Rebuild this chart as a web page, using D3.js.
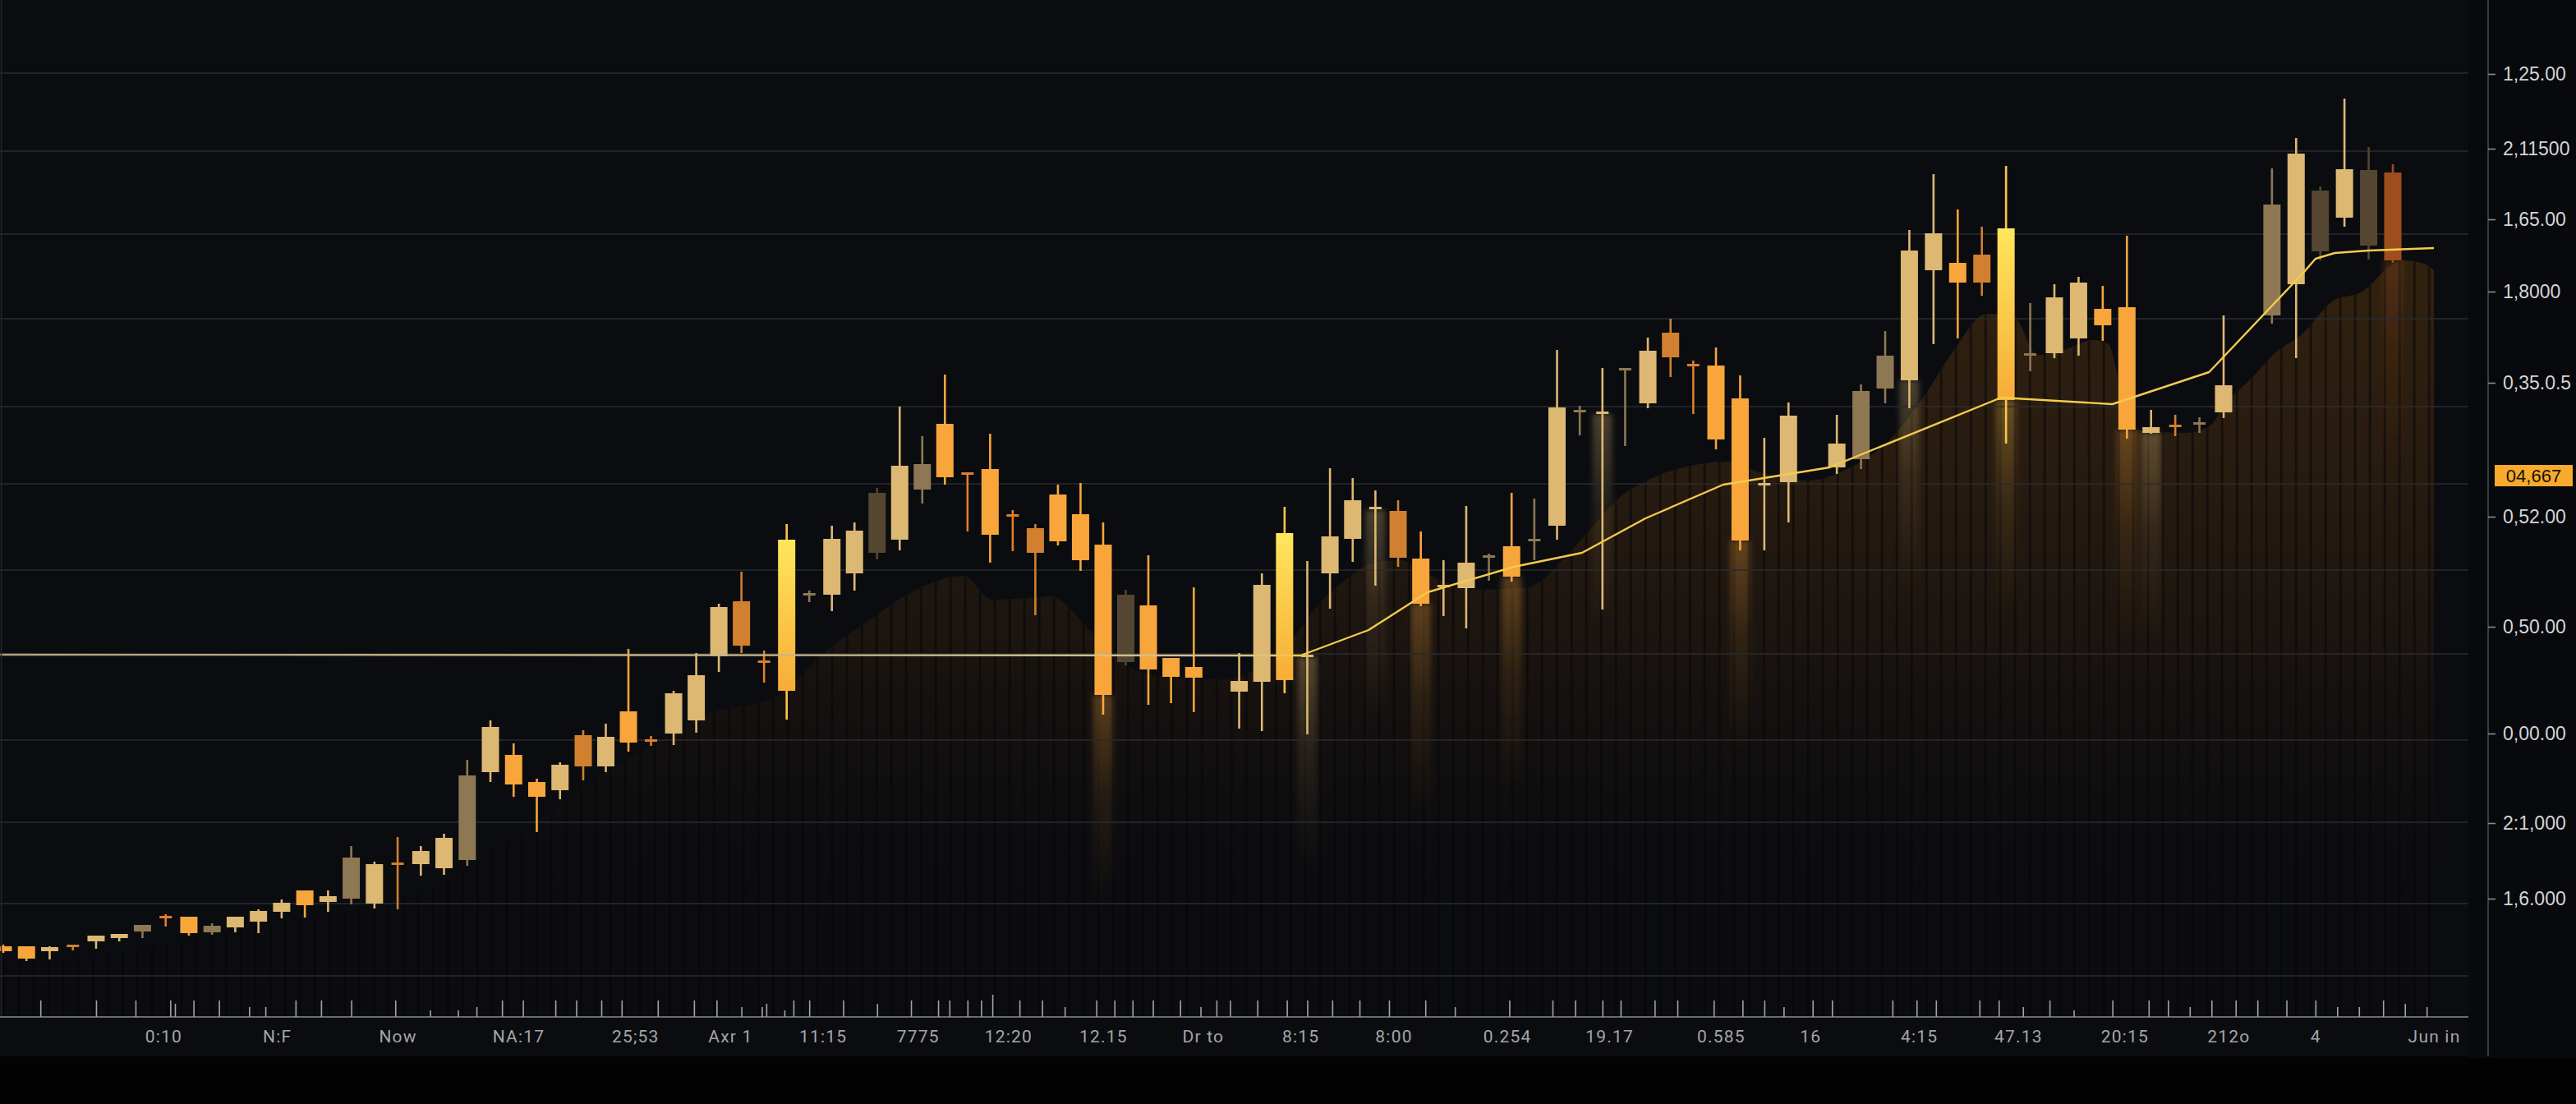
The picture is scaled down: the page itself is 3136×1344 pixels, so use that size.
<!DOCTYPE html>
<html><head><meta charset="utf-8">
<script src="https://cdn.jsdelivr.net/npm/d3@7"></script>
<style>
html,body{margin:0;padding:0;background:#030303;}
svg{display:block;}
</style></head><body>
<svg id="chart" width="3136" height="1344"></svg>
<script>
// ---------------- DATA ----------------
const candleSlot = [0,1,2,3,4,5,6,7,8,9,10,11,12,13,14,15,16,17,18,19,20,21,22,23,24,25,26,27,28,29,30,31,32,33,34,35,36,37,38,39,40,41,42,43,44,45,46,47,48,49,50,51,52,
  54,55,56,57,58,59,60,61,62,63,64,65,66,67,68,69,70,71,72,73,74,75,76,77,78,
  80,81,82,83,84,85,86,87,88,89,90,91,92,93,94,95,96,
  98,99,100,101,102,103];
const candleOpen = [8.6,8.6,8.0,8.7,9.2,9.6,10.4,12.2,12.2,10.3,10.9,11.6,12.8,15.4,14.0,14.4,13.8,18.7,18.6,18.1,19.1,29.8,31.9,28.6,27.6,34.3,30.5,37.2,33.7,34.5,36.1,43.9,50.6,43.3,39.7,51.3,51.4,54.0,56.5,58.1,64.2,72.2,66.2,66.7,61.1,59.5,63.6,61.2,57.5,43.2,50.1,43.7,42.6,
  39.6,40.8,41.0,43.8,54.0,58.2,61.7,61.6,55.8,52.3,52.2,55.9,57.3,57.9,59.8,73.6,73.4,78.7,74.7,83.3,79.4,79.3,75.3,64.7,65.1,
  66.9,67.9,76.5,77.5,90.9,91.8,92.8,75.1,80.5,80.8,82.6,86.2,86.4,71.1,72.0,72.1,73.6,
  85.4,89.2,93.2,97.3,93.9,102.8];
const candleClose = [8.0,7.1,8.5,8.5,9.9,10.1,11.2,12.0,10.2,11.1,12.2,12.9,13.9,13.6,14.7,19.4,18.6,18.5,20.2,21.8,29.4,35.3,28.3,26.8,30.7,30.5,34.1,33.4,33.5,39.4,41.6,49.9,45.2,43.1,58.1,51.5,58.2,59.2,63.8,67.1,67.3,65.7,66.0,58.7,60.9,56.5,57.9,55.6,39.2,51.4,42.3,41.4,41.3,
  40.9,52.6,58.9,44.0,58.5,62.9,62.0,55.9,50.3,52.5,55.3,56.1,53.6,58.1,74.2,73.8,73.6,78.9,81.1,80.3,79.2,70.3,58.0,64.9,73.2,
  69.8,76.2,80.5,93.3,95.4,89.4,89.4,96.0,80.7,87.6,89.4,84.2,71.5,71.8,71.8,72.3,76.9,
  98.9,105.1,100.6,103.2,103.1,92.1];
const candleHigh = [8.8,8.6,8.6,8.8,9.9,10.1,11.2,12.5,12.2,11.4,12.2,13.1,14.3,15.4,15.4,20.8,18.9,21.9,20.8,22.3,31.3,36.1,33.3,29.0,31.0,34.9,35.7,44.8,34.2,39.7,44.3,50.3,54.2,44.6,60.0,51.9,59.8,60.2,64.4,74.3,70.7,78.2,66.3,71.0,61.7,60.0,64.8,65.0,60.2,52.0,56.2,43.7,52.3,
  44.3,54.0,62.1,55.5,66.8,65.6,64.1,62.9,59.1,55.6,62.2,56.4,63.8,63.1,81.2,74.4,79.0,78.9,82.7,85.0,79.9,81.5,78.1,70.5,74.8,
  73.3,77.0,83.5,95.8,102.6,98.3,96.2,103.6,86.9,89.2,90.1,89.0,95.1,73.9,73.3,73.0,85.4,
  103.3,107.0,101.1,111.8,105.9,103.8];
const candleLow = [7.8,6.8,7.0,8.1,8.3,9.2,9.6,11.0,9.9,10.0,10.3,10.2,12.0,12.1,12.8,13.7,13.2,13.1,17.2,17.3,18.4,28.6,26.8,22.5,26.5,28.8,29.8,32.3,33.0,33.1,34.6,42.0,44.3,40.7,36.2,50.5,49.4,51.9,55.7,56.8,62.5,64.8,59.1,55.3,56.7,48.9,57.4,54.3,36.8,42.8,38.0,38.2,37.1,
  35.1,34.8,39.4,34.4,49.7,55.4,52.5,54.8,50.0,48.8,47.3,53.1,53.0,55.6,58.1,70.8,49.6,69.5,74.1,77.9,73.4,69.1,56.8,56.8,60.2,
  66.1,66.7,74.7,74.1,81.9,82.6,87.8,69.8,78.6,80.2,80.5,82.3,70.4,71.0,70.7,71.1,72.9,
  84.4,80.2,92.1,96.2,92.2,91.8];
const candleTone = ["O","O","L","B","L","L","D","R","O","D","L","L","L","O","L","D","L","B","L","L","D","L","O","O","L","B","L","O","R","L","L","L","B","R","Y","D","L","L","K","L","D","O","R","O","R","B","O","O","O","K","O","O","O",
  "L","L","Y","L","L","L","L","B","O","L","L","D","O","D","L","D","L","D","L","B","R","O","O","L","L",
  "L","D","D","L","L","O","B","Y","D","L","L","O","O","L","B","D","L",
  "D","L","K","L","K","M"];

// moving-average line: [slot, value]
const maLine = [[-0.2,44.1],[56.7,44.0],[59.7,47.1],[62.3,51.7],[66.1,54.8],[69.1,56.5],[71.9,60.7],[75.3,64.8],[79.7,66.9],[86.8,75.4],[91.4,74.6],[95.4,78.5],[99.3,90.6],[99.8,92.3],[100.6,93.0],[102.0,93.3],[104.7,93.6]];

// volume envelope: [slot, value]
const volumeEnvelope = [[-0.2,6.6],[3.4,7.3],[6.9,8.8],[10.5,10.8],[13.0,12.0],[16.0,13.8],[19.0,16.5],[21.1,20.3],[22.9,23.3],[24.6,27.3],[27.9,32.8],[30.3,36.7],[33.5,39.0],[36.0,45.1],[37.6,48.2],[39.2,51.2],[40.8,53.2],[41.8,53.7],[43.1,50.8],[44.6,51.0],[45.7,51.2],[47.3,47.4],[48.7,43.6],[50.0,41.7],[53.2,41.1],[56.2,45.6],[57.5,50.2],[58.8,53.5],[59.8,55.2],[61.1,55.6],[62.3,53.9],[64.2,52.0],[66.7,52.3],[68.5,56.4],[69.6,59.8],[70.7,63.1],[72.2,65.6],[74.1,67.2],[75.5,67.6],[76.7,66.4],[78.8,65.3],[80.5,66.8],[82.2,70.3],[83.6,75.5],[84.9,81.4],[86.2,85.6],[87.3,85.3],[88.3,80.6],[89.2,81.0],[90.6,82.4],[91.2,82.0],[92.2,71.5],[94.4,71.1],[95.4,71.9],[96.1,74.7],[97.2,77.9],[98.2,81.0],[99.2,83.0],[100.6,87.3],[101.6,88.1],[103.4,92.1],[104.3,91.7],[104.7,90.9]];
const volumeHighlight = [48,57,60,62,66,70,76,83,87,92,93,103];

// y axis
const yTickVals = [114.8,105.7,97.1,88.3,77.2,60.9,47.5,34.5,23.6,14.4];
const yTickLabels = ["1,25.00","2,11500","1,65.00","1,8000","0,35.0.5","0,52.00","0,50.00","0,00.00","2:1,000","1,6.000"];
const gridVals = [114.9,105.4,95.3,85.0,74.3,64.9,54.4,44.2,33.7,23.7,13.8,5.0];
const lastPrice = 65.9, lastPriceLabel = "04,667";

// x axis
const xLabelSlots = [6.9,11.8,17.0,22.2,27.3,31.5,35.6,39.8,43.8,48.0,52.4,56.7,60.8,65.8,70.3,75.2,78.9,83.4,87.5,91.9,96.2,99.8,104.7];
const xLabels = ["0:10","N:F","Now","NA:17","25;53","Axr 1","11:15","7775","12:20","12.15","Dr to","8:15","8:00","0.254","19.17","0.585","16","4:15","47.13","20:15","212o","4","Jun in"];
const tickLong = [1.6,4.0,5.7,7.2,8.2,9.3,12.6,13.7,15.0,16.9,21.5,22.4,23.8,24.7,25.8,26.7,28.3,29.9,30.9,34.3,35.0,36.5,39.5,40.7,41.2,42.0,42.6,44.3,45.3,47.7,48.5,49.3,50.2,51.4,53.0,53.6,54.8,56.1,57.0,58.1,59.3,60.6,62.2,65.9,67.8,68.8,70.0,70.8,72.3,73.3,74.9,76.1,77.0,79.0,79.8,82.3,83.3,84.1,85.9,86.7,88.8,91.4,92.9,93.7,95.5,96.5,97.4,98.6,99.8,102.6];
const tickMid = [7.4,33.1,38.0,103.5];
const tickShort = [10.6,11.3,20.4,32.0,32.9,46.3,52.3,63.5,77.8,87.7,94.6,100.7,101.6,104.4];
const tickTiny = [18.4,19.6,33.9,89.8];
const tickTall = [43.1];

// ---------------- DRAWING ----------------
const W = 3136, H = 1344;
const plotRight = 3005, axisX = 3029, baseY = 1238, panelBottom = 1286;

const x = d3.scaleLinear().domain([0,25,50,75,103]).range([4,710,1398,2089,2913]);
const y = d3.scaleLinear().domain([0,123.8]).range([baseY,0]);

const toneColor = d3.scaleOrdinal()
  .domain(["L","O","B","D","K","Y","R","M"])
  .range(["#dcb872","#f8a63b","#d0802f","#8d7853","#544631","#fcc548","#e07d2c","#9e4e1d"]);

const candles = candleSlot.map((s,i)=>({slot:s,open:candleOpen[i],close:candleClose[i],high:candleHigh[i],low:candleLow[i],tone:candleTone[i]}));

const svg = d3.select('#chart');
const defs = svg.append('defs');

svg.append('rect').attr('width',W).attr('height',H).attr('fill','#030303');
svg.append('rect').attr('x',0).attr('y',0).attr('width',plotRight).attr('height',panelBottom).attr('fill','#0b0c10');
svg.append('rect').attr('x',plotRight).attr('y',0).attr('width',W-plotRight).attr('height',panelBottom+2).attr('fill','#08090c');

defs.append('clipPath').attr('id','plotClip').append('rect').attr('x',0).attr('y',0).attr('width',plotRight).attr('height',baseY);

// volume gradient (fades out towards the bottom)
const vg = defs.append('linearGradient').attr('id','volGrad').attr('gradientUnits','userSpaceOnUse')
  .attr('x1',0).attr('x2',0).attr('y1',300).attr('y2',1120);
[[0,'#34230f',0.95],[0.35,'#2b1d10',0.88],[0.6,'#21170f',0.7],[0.8,'#17110d',0.4],[1,'#0b0c10',0]].forEach(s=>{
  vg.append('stop').attr('offset',s[0]).attr('stop-color',s[1]).attr('stop-opacity',s[2]);
});
const pat = defs.append('pattern').attr('id','stripes').attr('patternUnits','userSpaceOnUse')
  .attr('width',18).attr('height',40).attr('x',3.7).attr('y',0);
pat.append('rect').attr('x',0).attr('y',0).attr('width',3).attr('height',40).attr('fill','#050507').attr('opacity',0.55);

const yg = defs.append('linearGradient').attr('id','candleY').attr('x1',0).attr('x2',0).attr('y1',0).attr('y2',1);
yg.append('stop').attr('offset',0).attr('stop-color','#ffe65c');
yg.append('stop').attr('offset',1).attr('stop-color','#f7ac37');

toneColor.domain().forEach(t=>{
  const g = defs.append('linearGradient').attr('id','glow-'+t).attr('x1',0).attr('x2',0).attr('y1',0).attr('y2',1);
  g.append('stop').attr('offset',0).attr('stop-color',toneColor(t)).attr('stop-opacity',0.3);
  g.append('stop').attr('offset',0.45).attr('stop-color',toneColor(t)).attr('stop-opacity',0.1);
  g.append('stop').attr('offset',1).attr('stop-color',toneColor(t)).attr('stop-opacity',0);
});
defs.append('filter').attr('id','blur').attr('x','-50%').attr('width','200%')
  .append('feGaussianBlur').attr('stdDeviation',3);

const mg = defs.append('linearGradient').attr('id','maGrad').attr('gradientUnits','userSpaceOnUse')
  .attr('x1',0).attr('x2',3000).attr('y1',0).attr('y2',0);
[[0,'#b3a178'],[0.5,'#d2c193'],[0.527,'#f3c94b'],[1,'#f5cc4e']].forEach(s=>{
  mg.append('stop').attr('offset',s[0]).attr('stop-color',s[1]);
});

const plot = svg.append('g').attr('clip-path','url(#plotClip)');

// volume area
const area = d3.area().x(d=>x(d[0])).y0(y(0)).y1(d=>y(d[1])).curve(d3.curveMonotoneX);
plot.append('path').datum(volumeEnvelope).attr('d',area).attr('fill','url(#volGrad)');
plot.append('path').datum(volumeEnvelope).attr('d',area).attr('fill','url(#stripes)');

// highlighted volume columns (glow under candle)
const glowData = volumeHighlight.map(s=>candles.find(c=>c.slot===s)).filter(Boolean);
plot.append('g').attr('filter','url(#blur)').selectAll('rect').data(glowData).join('rect')
  .attr('x',d=>x(d.slot)-12).attr('width',24)
  .attr('y',d=>y(Math.min(d.open,d.close)))
  .attr('height',260)
  .attr('fill',d=>'url(#glow-'+d.tone+')');

// gridlines
plot.append('g').selectAll('line').data(gridVals).join('line')
  .attr('x1',0).attr('x2',plotRight).attr('y1',d=>y(d)).attr('y2',d=>y(d))
  .attr('stroke','#2a2b31').attr('stroke-width',1.6);

svg.append('line').attr('x1',1.5).attr('x2',1.5).attr('y1',0).attr('y2',baseY).attr('stroke','#24252a').attr('stroke-width',1.5);

// candles
const bw = 21;
const cg = plot.append('g');
cg.selectAll('line.wick').data(candles).join('line').attr('class','wick')
  .attr('x1',d=>x(d.slot)).attr('x2',d=>x(d.slot))
  .attr('y1',d=>y(d.high)).attr('y2',d=>y(d.low))
  .attr('stroke',d=>toneColor(d.tone)).attr('stroke-width',2.6);
cg.selectAll('rect.body').data(candles).join('rect').attr('class','body')
  .each(function(d){
    const thin = Math.abs(d.open-d.close) < 0.35;
    const w = thin ? 15 : bw;
    const top = y(Math.max(d.open,d.close));
    const h = Math.max(3, y(Math.min(d.open,d.close)) - top);
    d3.select(this).attr('x',x(d.slot)-w/2).attr('width',w)
      .attr('y', thin ? top - 1 : top).attr('height',h)
      .attr('fill', d.tone==='Y' ? 'url(#candleY)' : toneColor(d.tone));
  });

// MA line
const maPath = d3.line().x(d=>x(d[0])).y(d=>y(d[1])).curve(d3.curveLinear);
plot.append('path').datum(maLine).attr('d',maPath).attr('fill','none')
  .attr('stroke','url(#maGrad)').attr('stroke-width',2.4).attr('stroke-linejoin','round');

// x-axis baseline
svg.append('line').attr('x1',0).attr('x2',plotRight).attr('y1',baseY).attr('y2',baseY)
  .attr('stroke','#6a6b70').attr('stroke-width',2);

function minorTicks(vals, len){
  svg.append('g').attr('transform',`translate(0,${baseY})`)
    .call(d3.axisBottom(x).tickValues(vals).tickSize(-len).tickFormat(''))
    .call(g=>g.select('.domain').remove())
    .call(g=>g.selectAll('line').attr('stroke','#a3a3a6').attr('stroke-width',1.6));
}
minorTicks(tickLong,20); minorTicks(tickMid,16); minorTicks(tickShort,12); minorTicks(tickTiny,8); minorTicks(tickTall,27);

svg.append('g').attr('transform',`translate(0,${baseY})`)
  .call(d3.axisBottom(x).tickValues(xLabelSlots).tickFormat((d,i)=>xLabels[i]).tickSize(0).tickPadding(16))
  .call(g=>g.select('.domain').remove())
  .call(g=>g.selectAll('text').attr('fill','#a4a5a9').attr('font-size',21)
    .attr('font-family','Roboto, "Liberation Sans", sans-serif').attr('letter-spacing','1.2px'));

// y axis
svg.append('line').attr('x1',axisX).attr('x2',axisX).attr('y1',0).attr('y2',panelBottom).attr('stroke','#3a3b40').attr('stroke-width',2);
svg.append('g').attr('transform',`translate(${axisX},0)`)
  .call(d3.axisRight(y).tickValues(yTickVals).tickFormat((d,i)=>yTickLabels[i]).tickSize(9).tickPadding(9))
  .call(g=>g.select('.domain').remove())
  .call(g=>g.selectAll('line').attr('stroke','#8c8c90').attr('stroke-width',1.6))
  .call(g=>g.selectAll('text').attr('fill','#d4d4d6').attr('font-size',23)
    .attr('font-family','"Liberation Sans", Arial, sans-serif'));

// last price tag
const tagY = y(lastPrice);
svg.append('rect').attr('x',axisX+8).attr('y',tagY-13).attr('width',95).attr('height',26).attr('fill','#f7aa2c');
svg.append('text').attr('x',axisX+8+47.5).attr('y',tagY).attr('dy','0.35em').attr('text-anchor','middle')
  .attr('font-family','"Liberation Sans", Arial, sans-serif').attr('font-size',22).attr('fill','#18120a')
  .text(lastPriceLabel);
</script>
</body></html>
